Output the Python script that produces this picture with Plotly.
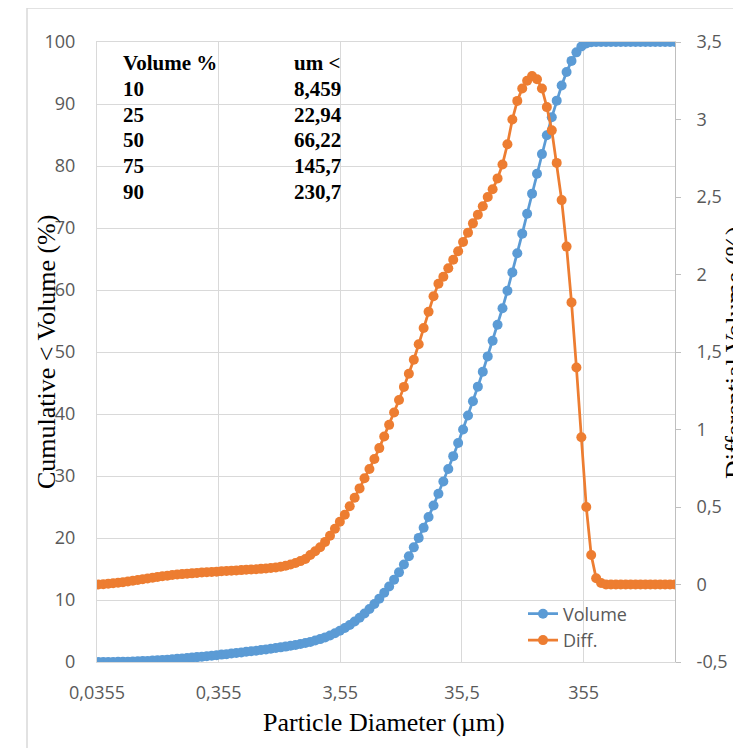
import plotly.graph_objects as go

# Particle diameters (µm) of the analyser channels
diameter = [
    0.0364, 0.0400, 0.0439, 0.0482, 0.0529, 0.0580, 0.0637, 0.0699, 0.0768, 0.0843,
    0.0925, 0.1016, 0.1115, 0.1224, 0.1344, 0.1475, 0.1619, 0.1778, 0.1952, 0.2143,
    0.2352, 0.2582, 0.2835, 0.3112, 0.3416, 0.375, 0.412, 0.452, 0.496, 0.545,
    0.598, 0.657, 0.721, 0.791, 0.869, 0.953, 1.047, 1.149, 1.261, 1.385,
    1.520, 1.669, 1.832, 2.011, 2.207, 2.423, 2.660, 2.920, 3.206, 3.519,
    3.863, 4.241, 4.656, 5.111, 5.611, 6.159, 6.761, 7.422, 8.148, 8.944,
    9.819, 10.78, 11.83, 12.99, 14.26, 15.65, 17.18, 18.86, 20.71, 22.73,
    24.95, 27.39, 30.07, 33.01, 36.24, 39.78, 43.67, 47.94, 52.62, 57.77,
    63.41, 69.61, 76.42, 83.89, 92.09, 101.1, 111.0, 121.8, 133.7, 146.8,
    161.2, 176.9, 194.2, 213.2, 234.1, 256.9, 282.1, 309.6, 339.9, 373.1,
    409.6, 449.7, 493.6, 541.9, 594.9, 653.0, 716.8, 786.9, 863.9, 948.3,
    1041, 1143, 1255, 1377, 1512, 1660, 1822, 2000,
]

# Cumulative < volume (%)
volume = [
    0.00, 0.00, 0.01, 0.01, 0.03, 0.04, 0.06, 0.08, 0.11, 0.15,
    0.18, 0.23, 0.28, 0.33, 0.38, 0.44, 0.51, 0.57, 0.64, 0.71,
    0.79, 0.86, 0.94, 1.02, 1.10, 1.19, 1.27, 1.36, 1.45, 1.54,
    1.64, 1.73, 1.83, 1.93, 2.03, 2.14, 2.25, 2.36, 2.48, 2.61,
    2.74, 2.89, 3.06, 3.24, 3.46, 3.69, 3.97, 4.28, 4.63, 5.03,
    5.48, 5.98, 6.53, 7.14, 7.82, 8.55, 9.36, 10.22, 11.17, 12.19,
    13.28, 14.46, 15.72, 17.06, 18.49, 20.02, 21.66, 23.40, 25.24, 27.15,
    29.11, 31.13, 33.20, 35.32, 37.51, 39.75, 42.05, 44.41, 46.82, 49.29,
    51.81, 54.39, 57.07, 59.88, 62.84, 65.92, 69.09, 72.30, 75.54, 78.76,
    81.92, 84.96, 87.86, 90.54, 92.99, 95.15, 96.95, 98.33, 99.27, 99.76,
    99.95, 99.99, 100, 100, 100, 100, 100, 100, 100, 100,
    100, 100, 100, 100, 100, 100, 100, 100,
]

# Differential volume (%)
diff = [
    0.000, 0.002, 0.005, 0.008, 0.011, 0.015, 0.019, 0.024, 0.029, 0.034,
    0.039, 0.044, 0.049, 0.053, 0.057, 0.061, 0.064, 0.067, 0.070, 0.072,
    0.075, 0.077, 0.079, 0.081, 0.083, 0.085, 0.087, 0.089, 0.091, 0.093,
    0.095, 0.097, 0.099, 0.101, 0.103, 0.106, 0.110, 0.115, 0.121, 0.129,
    0.139, 0.151, 0.165, 0.190, 0.215, 0.240, 0.275, 0.315, 0.360, 0.405,
    0.450, 0.505, 0.560, 0.620, 0.685, 0.745, 0.810, 0.880, 0.955, 1.030,
    1.110, 1.190, 1.275, 1.360, 1.450, 1.550, 1.655, 1.760, 1.860, 1.940,
    1.985, 2.040, 2.095, 2.150, 2.210, 2.270, 2.330, 2.385, 2.440, 2.500,
    2.550, 2.620, 2.710, 2.840, 3.000, 3.120, 3.200, 3.250, 3.280, 3.260,
    3.200, 3.080, 2.930, 2.720, 2.480, 2.180, 1.820, 1.400, 0.950, 0.500,
    0.190, 0.040, 0.010, 0, 0, 0, 0, 0, 0, 0,
    0, 0, 0, 0, 0, 0, 0, 0,
]

x_tickvals = [0.0355, 0.355, 3.55, 35.5, 355]
x_ticktext = ["0,0355", "0,355", "3,55", "35,5", "355"]
y2_tickvals = [-0.5, 0, 0.5, 1, 1.5, 2, 2.5, 3, 3.5]
y2_ticktext = ["-0,5", "0", "0,5", "1", "1,5", "2", "2,5", "3", "3,5"]

table_header = ["Volume %", "um <"]
table_pct = ["10", "25", "50", "75", "90"]
table_um = ["8,459", "22,94", "66,22", "145,7", "230,7"]

BLUE = "#5B9BD5"
ORANGE = "#ED7D31"
GRID = "#D9D9D9"
TICKC = "#595959"

fig = go.Figure()
fig.add_trace(go.Scatter(
    x=diameter, y=volume, name="Volume", mode="lines+markers",
    line=dict(color=BLUE, width=2.75), marker=dict(color=BLUE, size=10),
    yaxis="y"))
fig.add_trace(go.Scatter(
    x=diameter, y=diff, name="Diff.", mode="lines+markers",
    line=dict(color=ORANGE, width=2.75), marker=dict(color=ORANGE, size=10),
    yaxis="y2"))

# The page body adds an 8 px offset; positions below are given in page pixels.
OFF = 8
W, H = 741 - OFF, 748 - OFF
L, T = 97 - OFF, 42 - OFF
R = W - (675 - OFF)
B = H - (662 - OFF)
pw, ph = W - L - R, H - T - B

def px(xp):
    return (xp - OFF - L) / pw

def py(yp):
    return (H - B - (yp - OFF)) / ph

tick_font = dict(family="Open Sans, sans-serif", size=18, color=TICKC)
title_font = dict(family="Liberation Serif, Times New Roman, serif", size=26, color="#000000")
table_font = dict(family="Liberation Serif, Times New Roman, serif", size=21, color="#000000")

annotations = [
    dict(text="Cumulative < Volume (%)", x=px(46), y=0.5, xref="paper", yref="paper",
         textangle=-90, showarrow=False, font=title_font, xanchor="center", yanchor="middle"),
    dict(text="Differential Volume (%)", x=px(734), y=0.5, xref="paper", yref="paper",
         textangle=-90, showarrow=False, font=title_font, xanchor="center", yanchor="middle"),
    dict(text="Particle Diameter (µm)", x=px(384), y=py(722), xref="paper", yref="paper",
         showarrow=False, font=title_font, xanchor="center", yanchor="middle"),
]
row_y = [63.3, 89.0, 114.7, 140.4, 166.1, 191.8]
col1 = [table_header[0]] + table_pct
col2 = [table_header[1]] + table_um
for k in range(len(col1)):
    annotations.append(dict(text="<b>%s</b>" % col1[k], x=px(121), y=py(row_y[k]),
                            xref="paper", yref="paper", showarrow=False, font=table_font,
                            xanchor="left", yanchor="middle"))
    annotations.append(dict(text="<b>%s</b>" % col2[k], x=px(292), y=py(row_y[k]),
                            xref="paper", yref="paper", showarrow=False, font=table_font,
                            xanchor="left", yanchor="middle"))

fig.update_layout(
    width=W, height=H,
    margin=dict(l=L, r=R, t=T, b=B, pad=0, autoexpand=False),
    paper_bgcolor="white", plot_bgcolor="white",
    separators=",.",
    showlegend=True,
    legend=dict(x=px(523), y=py(627), xanchor="left", yanchor="middle",
                font=dict(family="Open Sans, sans-serif", size=18, color=TICKC),
                bgcolor="rgba(0,0,0,0)", tracegroupgap=0),
    xaxis=dict(type="log", range=[-1.449772, 3.301030],
               tickvals=x_tickvals, ticktext=x_ticktext,
               showgrid=True, gridcolor=GRID, gridwidth=1,
               showline=True, linecolor=GRID, linewidth=1, mirror=True,
               ticks="", tickfont=tick_font, ticklabelstandoff=14,
               zeroline=False, automargin=False),
    yaxis=dict(range=[0, 100], tick0=0, dtick=10,
               showgrid=True, gridcolor=GRID, gridwidth=1,
               showline=True, linecolor=GRID, linewidth=1, mirror=True,
               ticks="", tickfont=tick_font, ticklabelstandoff=17,
               zeroline=False, automargin=False),
    yaxis2=dict(range=[-0.5, 3.5], tickvals=y2_tickvals, ticktext=y2_ticktext,
                overlaying="y", side="right",
                showgrid=False, zeroline=False,
                showline=True, linecolor="#BFBFBF", linewidth=1,
                ticks="outside", ticklen=5, tickcolor="#BFBFBF",
                tickfont=tick_font, ticklabelstandoff=12, automargin=False),
    annotations=annotations,
    shapes=[dict(type="rect", xref="paper", yref="paper",
                 x0=px(27), x1=1.3, y0=-0.3, y1=py(8),
                 line=dict(color=GRID, width=1.5), fillcolor="rgba(0,0,0,0)", layer="below")],
)

fig.write_html("out.html")
